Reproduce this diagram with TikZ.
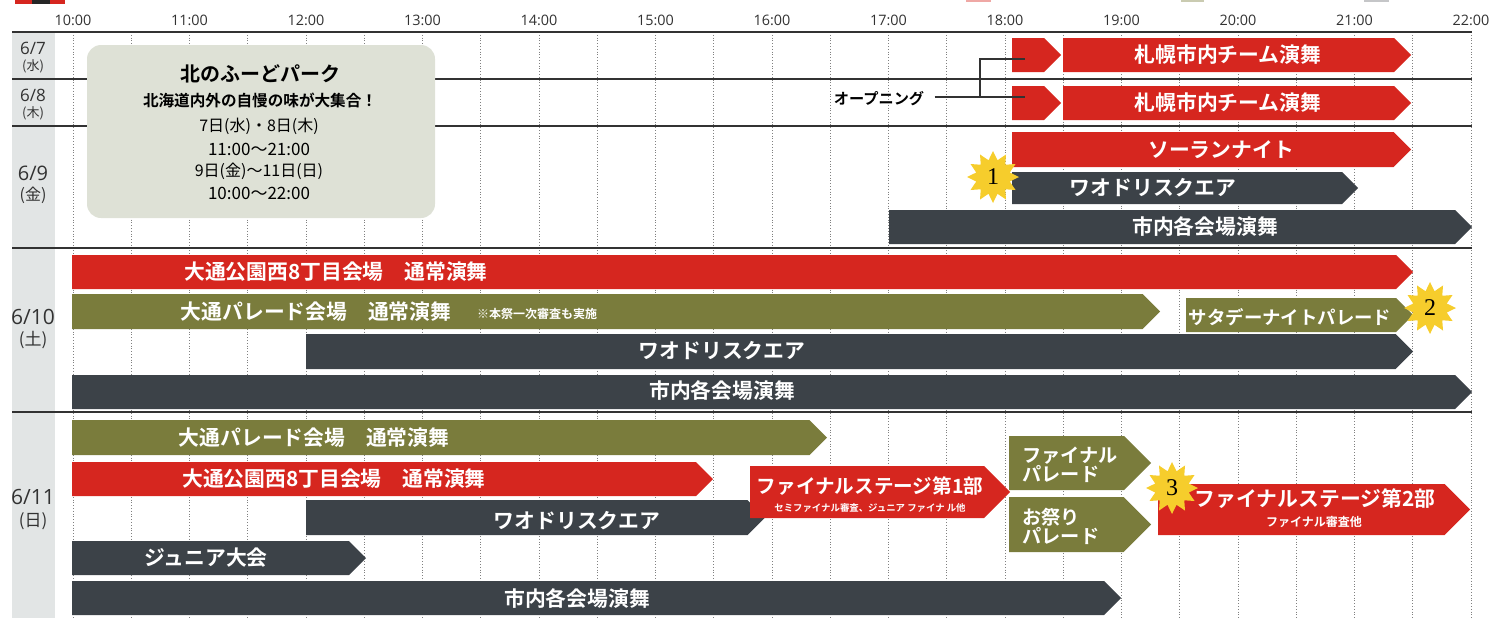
\documentclass[tikz,border=0pt]{standalone}
\usepackage{fontspec}
\setmainfont{Open Sans}
\newfontfamily\jp[BoldFont={Noto Sans CJK JP Bold}]{Noto Sans CJK JP}
\newfontfamily\numfont{Liberation Serif}
\usetikzlibrary{shapes.geometric}

\definecolor{barred}{RGB}{214,38,31}
\definecolor{barolive}{RGB}{122,124,60}
\definecolor{bardark}{RGB}{60,66,72}
\definecolor{boxgray}{RGB}{222,225,214}
\definecolor{datecol}{RGB}{226,229,229}
\definecolor{staryellow}{RGB}{246,205,44}
\definecolor{rulegray}{RGB}{50,50,50}

% filled bar with a pointed right end: style, x start, x tip, y top, y bottom
\newcommand{\arrowbar}[5]{%
  \pgfmathsetmacro{\ymid}{(#4+#5)/2}%
  \pgfmathsetmacro{\xbody}{#3-(#5-#4)/2}%
  \fill[#1] (#2,#4) -- (\xbody,#4) -- (#3,\ymid) -- (\xbody,#5) -- (#2,#5) -- cycle;}

\tikzset{
  redbar/.style={fill=barred},
  olivebar/.style={fill=barolive},
  darkbar/.style={fill=bardark},
  bartext/.style={text=white, inner sep=0pt, font=\jp\bfseries\fontsize{10.4}{12}\selectfont},
  smalltext/.style={text=white, inner sep=0pt, font=\jp\bfseries\fontsize{5}{6}\selectfont},
  hourlabel/.style={inner sep=0pt, text=rulegray, font=\fontsize{7.2}{8}\selectfont},
  datenum/.style={inner sep=0pt, text=rulegray, font=\fontsize{#1}{#1}\selectfont},
  dateday/.style={inner sep=0pt, text=rulegray, font=\jp\fontsize{#1}{#1}\selectfont},
  boxtext/.style={inner sep=0pt, text=black, font=\jp\fontsize{#1}{#1}\selectfont},
  gridline/.style={line width=0.4pt, gray, densely dotted},
  burst/.style={star, star points=12, star point ratio=1.5, fill=staryellow,
    minimum size=26pt, inner sep=0pt, font=\numfont\fontsize{12}{12}\selectfont},
  conn/.style={line width=1.2pt, rulegray}
}

\begin{document}
\begin{tikzpicture}[x=0.5pt, y=-0.5pt]
\useasboundingbox (0,0) rectangle (1492,618);
% legend pieces cut off at the top edge
\fill[barred] (15,0) rectangle (32,4);
\fill[black!85] (32,0) rectangle (50,4);
\fill[barred] (50,0) rectangle (65,4);
\fill[barred!40] (966,0) rectangle (991,2);
\fill[barolive!40] (1181,0) rectangle (1204,2);
\fill[bardark!30] (1364,0) rectangle (1389,2);

% date column and time grid
\fill[datecol] (12,32) rectangle (55,618);
\foreach \k in {0,...,24}
  \draw[gridline] ({73+\k*58.25},32) -- ({73+\k*58.25},618);
\foreach \h in {10,...,22}
  \node[hourlabel] (h\h) at ({73+(\h-10)*116.5},20) {\h:00};

% day rules
\draw[line width=1pt, rulegray] (12,32) -- (1472,32);
\draw[line width=0.7pt, rulegray] (12,79) -- (1472,79);
\draw[line width=0.7pt, rulegray] (12,126) -- (1472,126);
\draw[line width=1.2pt, rulegray] (12,248) -- (1472,248);
\draw[line width=1.2pt, rulegray] (12,412) -- (1472,412);

% dates
\node[datenum=8.5] (d7) at (33,48) {6/7};
\node[dateday=6.5] (d7w) at (33,66) {(水)};
\node[datenum=8.5] (d8) at (33,95) {6/8};
\node[dateday=6.5] (d8w) at (33,113) {(木)};
\node[datenum=10] (d9) at (33,173) {6/9};
\node[dateday=8] (d9w) at (33,195) {(金)};
\node[datenum=10.5] (d10) at (33,317) {6/10};
\node[dateday=8.5] (d10w) at (33,340) {(土)};
\node[datenum=10.5] (d11) at (33,497) {6/11};
\node[dateday=8.5] (d11w) at (33,521) {(日)};

% food park box
\fill[boxgray, rounded corners=7pt] (87,45) rectangle (435,218);
\node[boxtext=10, font=\jp\bfseries\fontsize{10}{10}\selectfont] (fp) at (260,74) {北のふーどパーク};
\node[boxtext=7.8, font=\jp\bfseries\fontsize{7.8}{8}\selectfont] (fp1) at (260,100) {北海道内外の自慢の味が大集合！};
\node[boxtext=8] (fp2) at (259,126) {7日(水)・8日(木)};
\node[boxtext=8.5] (fp3) at (259,149) {11:00〜21:00};
\node[boxtext=8] (fp4) at (259,171) {9日(金)〜11日(日)};
\node[boxtext=8.5] (fp5) at (259,193) {10:00〜22:00};

% 6/7, 6/8
\arrowbar{redbar}{1012}{1061}{38}{72}
\arrowbar{redbar}{1063}{1411}{38}{72}
\node[bartext] (sp7) at (1228,55) {札幌市内チーム演舞};
\arrowbar{redbar}{1012}{1061}{86}{120}
\arrowbar{redbar}{1063}{1411}{86}{120}
\node[bartext] (sp8) at (1228,103) {札幌市内チーム演舞};
\node[inner sep=0pt, font=\jp\bfseries\fontsize{7.6}{8}\selectfont] (open) at (879,99) {オープニング};
\coordinate (jn) at (980,97);
\coordinate (o7) at (1025,59);
\coordinate (o8) at (1025,97);
\draw[conn] ([xshift=5pt]open.east |- jn) -- (jn) |- (o7);
\draw[conn] (jn) -- (o8);

% 6/9
\arrowbar{redbar}{1012}{1411}{132}{167}
\node[bartext] (soran) at (1221,150) {ソーランナイト};
\arrowbar{darkbar}{1012}{1358}{172}{204}
\node[bartext] (wao9) at (1153,188) {ワオドリスクエア};
\arrowbar{darkbar}{889}{1472}{210}{244}
\node[bartext] (shi9) at (1205,227) {市内各会場演舞};
\node[burst] (s1) at (993,177) {1};

% 6/10
\arrowbar{redbar}{72}{1413}{255}{289}
\node[bartext] (nishi10) at (336,272) {大通公園西8丁目会場　通常演舞};
\arrowbar{olivebar}{72}{1160}{294}{329}
\node[bartext] (para10) at (316,312) {大通パレード会場　通常演舞};
\node[smalltext, font=\jp\bfseries\fontsize{6}{6}\selectfont] (shinsa) at (537,314) {※本祭一次審査も実施};
\arrowbar{olivebar}{1186}{1413}{298}{332}
\node[bartext, font=\jp\bfseries\fontsize{9.2}{10}\selectfont] (sat) at (1290,317) {サタデーナイトパレード};
\node[burst] (s2) at (1430,308) {2};
\arrowbar{darkbar}{306}{1413}{334}{369}
\node[bartext] (wao10) at (722,351) {ワオドリスクエア};
\arrowbar{darkbar}{72}{1472}{375}{409}
\node[bartext] (shi10) at (722,391) {市内各会場演舞};

% 6/11
\arrowbar{olivebar}{72}{827}{420}{455}
\node[bartext] (para11) at (314,438) {大通パレード会場　通常演舞};
\arrowbar{redbar}{72}{713}{462}{496}
\node[bartext] (nishi11) at (334,479) {大通公園西8丁目会場　通常演舞};
\arrowbar{darkbar}{306}{765}{500}{535}
\node[bartext] (wao11) at (577,521) {ワオドリスクエア};
\arrowbar{darkbar}{72}{366}{541}{575}
\node[bartext] (jr) at (206,558) {ジュニア大会};
\arrowbar{darkbar}{72}{1121}{581}{615}
\node[bartext] (shi11) at (577,599) {市内各会場演舞};
\arrowbar{redbar}{750}{1010}{466}{518}
\node[bartext, font=\jp\bfseries\fontsize{9.8}{11}\selectfont] (fs1) at (870,486) {ファイナルステージ第1部};
\node[smalltext, font=\jp\bfseries\fontsize{4.7}{5}\selectfont] (fs1s) at (870,508) {セミファイナル審査、ジュニア ファイナ ル他};
\arrowbar{olivebar}{1009}{1151}{436}{490}
\node[bartext, align=left, anchor=west, font=\jp\bfseries\fontsize{9.6}{9.6}\selectfont] (fpar) at (1022,465) {ファイナル\\パレード};
\arrowbar{olivebar}{1009}{1151}{497}{552}
\node[bartext, align=left, anchor=west, font=\jp\bfseries\fontsize{9.6}{9.6}\selectfont] (omp) at (1022,526) {お祭り\\パレード};
\arrowbar{redbar}{1158}{1470}{484}{535}
\node[bartext] (fs2) at (1315,499) {ファイナルステージ第2部};
\node[smalltext, font=\jp\bfseries\fontsize{6}{6}\selectfont] (fs2s) at (1314,522) {ファイナル審査他};
\node[burst] (s3) at (1172,488) {3};
\end{tikzpicture}
\end{document}
